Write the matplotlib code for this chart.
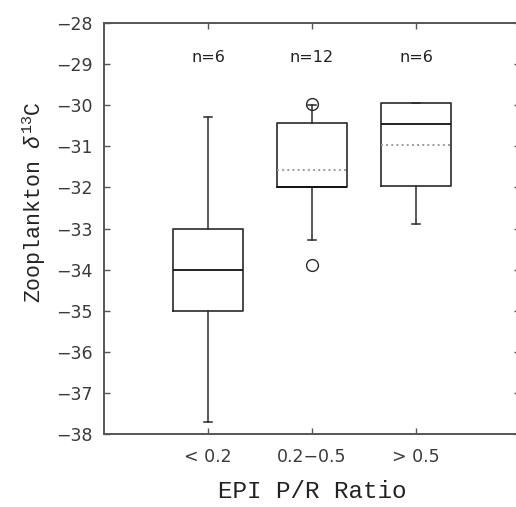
import matplotlib
matplotlib.use("Agg")
import matplotlib.pyplot as plt

plt.rcParams['mathtext.fontset'] = 'custom'
plt.rcParams['mathtext.rm'] = 'Liberation Mono'
plt.rcParams['mathtext.it'] = 'Liberation Mono:italic'

# box summaries per P/R class (permil)
groups = ['< 0.2', '0.2\u22120.5', '> 0.5']
n_obs = [6, 12, 6]
medians = [-34.0, -32.0, -30.46]
q1s = [-35.0, -32.0, -31.97]
q3s = [-33.0, -30.44, -29.94]
whis_lo = [-37.72, -33.28, -32.89]
whis_hi = [-30.28, -30.0, -29.94]
means = [None, -31.58, -30.96]
outliers = [[], [-29.97, -33.9], []]

ink = '#2a2a2a'

fig = plt.figure(figsize=(5.16, 5.07), dpi=100)
ax = fig.add_axes([104 / 516, 0.1440, 416 / 516, 0.8106])

for i in range(len(groups)):
    st = dict(med=medians[i], q1=q1s[i], q3=q3s[i],
              whislo=whis_lo[i], whishi=whis_hi[i], fliers=outliers[i])
    has_mean = means[i] is not None
    if has_mean:
        st['mean'] = means[i]
    ax.bxp([st], positions=[i + 1], widths=0.67, capwidths=0.07,
           showmeans=has_mean, meanline=True,
           boxprops=dict(color=ink, linewidth=1.2),
           whiskerprops=dict(color=ink, linewidth=1.1),
           capprops=dict(color=ink, linewidth=1.1),
           medianprops=dict(color='#111111', linewidth=1.3),
           meanprops=dict(color='#9a9a9a', linestyle=':', linewidth=1.4),
           flierprops=dict(marker='o', markersize=8.5, markerfacecolor='none',
                           markeredgecolor=ink, markeredgewidth=1.0))
    ax.text(i + 1, -28.83, 'n=%d' % n_obs[i], ha='center', va='center',
            fontsize=11.5, family='DejaVu Sans', color='#222222')

ax.set_xlim(0, 4)
ax.set_ylim(-38, -28)
ax.set_xticks([1, 2, 3])
ax.set_xticklabels(groups)
ax.set_yticks(range(-38, -27))
ax.tick_params(direction='in', top=True, right=True, length=4, width=1,
               color='#555555', labelsize=12.5, labelcolor='#3a3a3a')
ax.tick_params(axis='y', pad=8)
ax.tick_params(axis='x', pad=10)
for sp in ax.spines.values():
    sp.set_color('#555555')
    sp.set_linewidth(1.4)

ax.set_xlabel('EPI P/R Ratio', family='Liberation Mono', fontsize=17.5,
              color='#222222', labelpad=10)
ax.set_ylabel('Zooplankton $\\delta^{13}$C', family='Liberation Mono',
              fontsize=15.5, color='#222222')
ax.yaxis.set_label_coords(-0.135, 0.565)

fig.savefig('out.png', dpi=100)
